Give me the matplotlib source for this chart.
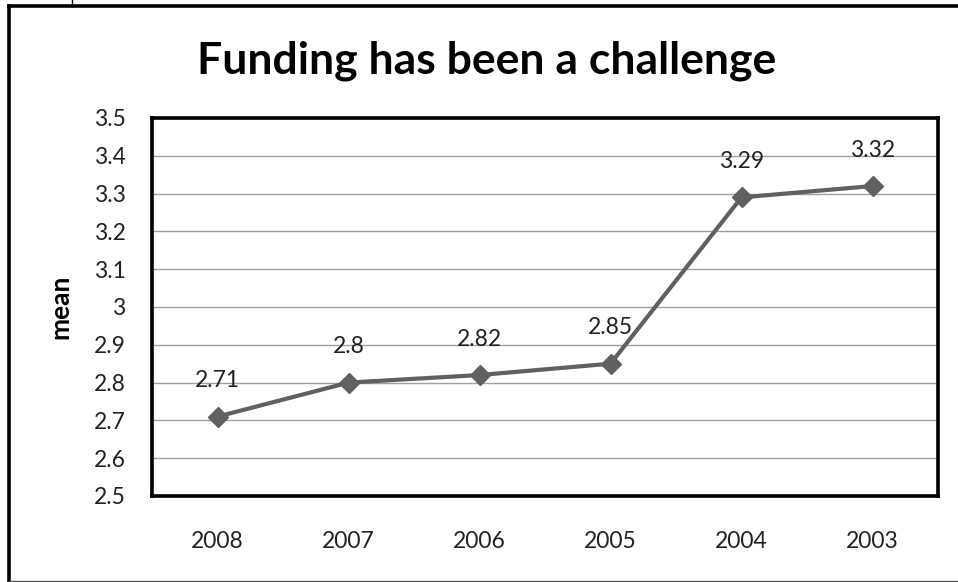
import matplotlib
matplotlib.use("Agg")
import matplotlib.pyplot as plt
from matplotlib.lines import Line2D

years = ["2008", "2007", "2006", "2005", "2004", "2003"]
means = [2.71, 2.80, 2.82, 2.85, 3.29, 3.32]
value_labels = ["2.71", "2.8", "2.82", "2.85", "3.29", "3.32"]
y_ticks = [2.5, 2.6, 2.7, 2.8, 2.9, 3.0, 3.1, 3.2, 3.3, 3.4, 3.5]
y_tick_labels = ["2.5", "2.6", "2.7", "2.8", "2.9", "3", "3.1", "3.2", "3.3", "3.4", "3.5"]

plt.rcParams["font.family"] = ["Lato", "DejaVu Sans"]

W, H = 958, 582
fig = plt.figure(figsize=(W / 100, H / 100), dpi=100)
fig.patch.set_facecolor("white")

# plot area in pixel coordinates
left, right, top, bottom = 152, 938, 118, 496
ax = fig.add_axes([left / W, 1 - bottom / H, (right - left) / W, (bottom - top) / H])

x = list(range(len(years)))
ax.plot(x, means, color="#606060", lw=3.0, marker="D", markersize=10.5,
        markerfacecolor="#606060", markeredgecolor="#606060", zorder=3)

for xi, v, lab in zip(x, means, value_labels):
    ax.annotate(lab, (xi, v), xytext=(0, 36), textcoords="offset pixels",
                ha="center", va="center", fontsize=16.5, color="#222222")

ax.set_xlim(-0.5, len(years) - 0.5)
ax.set_ylim(2.5, 3.5)
ax.set_yticks(y_ticks)
ax.set_yticklabels(y_tick_labels, fontsize=16.5, color="#222222")
ax.set_xticks(x)
ax.set_xticklabels(years, fontsize=16.5, color="#222222")
ax.tick_params(axis="both", length=0)
ax.tick_params(axis="y", pad=19)
ax.tick_params(axis="x", pad=25)
ax.grid(axis="y", color="#a0a0a0", lw=1.0)
ax.set_axisbelow(True)
for s in ax.spines.values():
    s.set_color("black")
    s.set_linewidth(2.6)

fig.text(60 / W, 1 - 307 / H, "mean", rotation=90, ha="center", va="center",
         fontsize=19, fontweight="bold", color="black")

fig.text(487 / W, 1 - 61 / H, "Funding has been a challenge", ha="center", va="center",
         fontsize=32, fontweight="bold", color="black")

# outer chart border
fig.add_artist(Line2D([8.5 / W, 1.0], [1 - 6 / H, 1 - 6 / H], color="black", lw=2.6,
                      transform=fig.transFigure))
fig.add_artist(Line2D([8.5 / W, 8.5 / W], [1 - 6 / H, 0], color="black", lw=2.6,
                      transform=fig.transFigure))
fig.add_artist(Line2D([8.5 / W, 1.0], [1 - 580.5 / H, 1 - 580.5 / H], color="#555555", lw=1.0,
                      transform=fig.transFigure))
fig.add_artist(Line2D([72 / W, 72 / W], [1.0, 1 - 6 / H], color="black", lw=1.0,
                      transform=fig.transFigure))

fig.savefig("out.png", dpi=100, facecolor="white")
